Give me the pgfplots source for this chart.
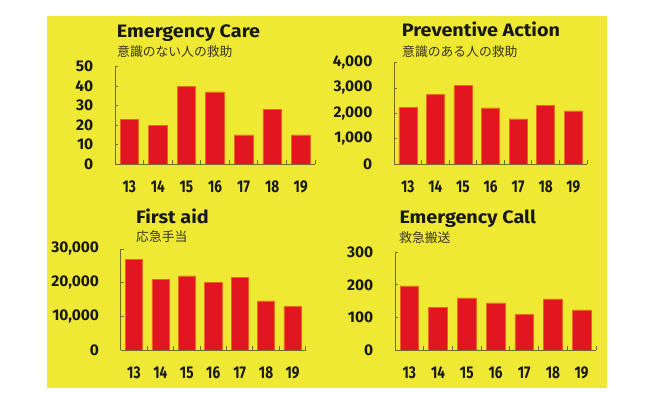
\documentclass[border=0pt]{standalone}
\usepackage{pgfplots}
\pgfplotsset{compat=1.18}
\usepackage{fontspec}
\setmainfont{Fira Sans}
\newfontfamily\cjk{Noto Sans CJK JP}
\newfontfamily\xfont[FakeStretch=0.8]{Fira Sans}
\newfontfamily\tfont[FakeStretch=1.1]{Fira Sans}
\definecolor{yellowbg}{RGB}{239,233,52}
\definecolor{barred}{RGB}{226,22,32}
\definecolor{baredge}{RGB}{236,100,30}
\definecolor{axiscol}{RGB}{115,105,40}
\definecolor{titlecol}{RGB}{25,25,20}
\definecolor{subcol}{RGB}{55,52,30}

\pgfplotsset{
  panel/.style={
    scale only axis,
    anchor=south west,
    axis lines*=left,
    axis line style={draw=axiscol, line width=0.9pt},
    xmin=-0.5, xmax=6.5, ymin=0,
    enlargelimits=false,
    xtick={0,...,6},
    xticklabels={13,14,15,16,17,18,19},
    minor xtick={0.5,1.5,...,6.5},
    every major x tick/.append style={draw=none},
    tick align=inside,
    major tick length=3pt,
    minor tick length=4pt,
    tick style={draw=axiscol, line width=0.8pt},
    scaled y ticks=false,
    /pgf/number format/assume math mode=true,
    /pgf/number format/1000 sep={,},
    yticklabel style={anchor=east, inner sep=0pt, xshift=-21.5pt, text=titlecol,
      font=\fontsize{15.5}{16}\selectfont\bfseries},
    xticklabel style={anchor=north, inner sep=0pt, yshift=-17pt, text=titlecol,
      font=\xfont\fontsize{17}{17}\selectfont\bfseries},
    bar width=0.65,
  },
  bars/.style={ybar, fill=barred, draw=baredge, line width=0.5pt},
}

\begin{document}
\begin{tikzpicture}
\fill[white] (0pt,0pt) rectangle (650pt,406pt);
\fill[yellowbg] (47pt,18pt) rectangle (607pt,390pt);

% Panel 1
\begin{axis}[panel, at={(115pt,242pt)}, width=200pt, height=97.3pt, ymax=50, ytick={0,10,...,50}]
\addplot[bars] coordinates {(0,23) (1,20) (2,40) (3,37) (4,15) (5,28) (6,15)};
\end{axis}

% Panel 2
\begin{axis}[panel, at={(394pt,242pt)}, width=193pt, height=101.3pt, ymax=4000, ytick={0,1000,...,4000}]
\addplot[bars] coordinates {(0,2240) (1,2760) (2,3090) (3,2220) (4,1780) (5,2320) (6,2100)};
\end{axis}

% Panel 3
\begin{axis}[panel, at={(120.7pt,56pt)}, width=185pt, height=101pt, ymax=30000, ytick={0,10000,20000,30000}]
\addplot[bars] coordinates {(0,27000) (1,21000) (2,22000) (3,20000) (4,21500) (5,14600) (6,12900)};
\end{axis}

% Panel 4
\begin{axis}[panel, at={(395pt,56pt)}, width=201pt, height=97.7pt, ymax=300, ytick={0,100,200,300}]
\addplot[bars] coordinates {(0,197) (1,130) (2,160) (3,145) (4,110) (5,157) (6,123)};
\end{axis}

\tikzset{ttl/.style={anchor=base west, inner sep=0pt, text=titlecol, font=\tfont\fontsize{18}{18}\selectfont\bfseries},
         sub/.style={anchor=west, inner sep=0pt, text=subcol, font=\cjk\fontsize{12.8}{13}\selectfont}}
\node[ttl] at (116.7pt,368.7pt) {Emergency Care};
\node[sub] at (117pt,354pt) {意識のない人の救助};
\node[ttl] at (401.7pt,369.3pt) {Preventive Action};
\node[sub] at (402pt,354.3pt) {意識のある人の救助};
\node[ttl] at (136pt,182.7pt) {First aid};
\node[sub] at (136pt,169.3pt) {応急手当};
\node[ttl] at (399.3pt,182.7pt) {Emergency Call};
\node[sub] at (399pt,168.7pt) {救急搬送};
\end{tikzpicture}
\end{document}
